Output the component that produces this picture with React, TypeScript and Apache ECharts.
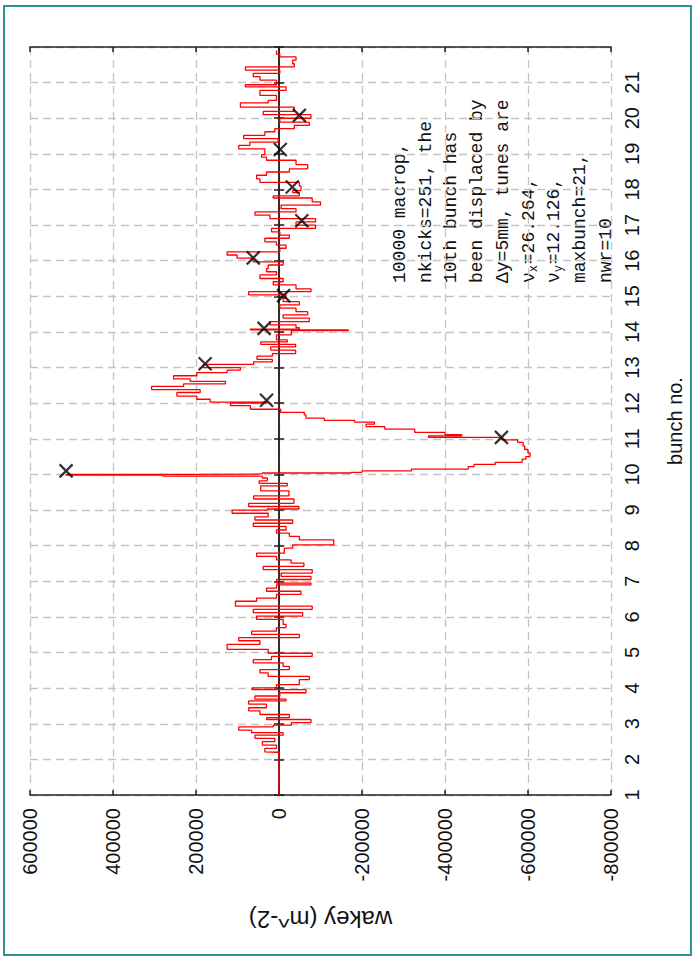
import React, { useEffect, useRef } from "react";
import * as echarts from "echarts";

// Trace: bunch position (vertical axis) and wake value (horizontal axis)
const bunchPos = [
  1.0, 2.2, 2.21, 2.31, 2.4, 2.5, 2.59, 2.68, 2.75, 2.82, 2.91, 2.96, 3.03, 3.12, 3.17, 3.26, 3.36, 3.45,
  3.55, 3.64, 3.69, 3.78, 3.87, 3.96, 4.01, 4.1, 4.24, 4.33, 4.43, 4.52, 4.61, 4.71, 4.8, 4.89, 4.98,
  5.09, 5.23, 5.33, 5.42, 5.51, 5.6, 5.7, 5.79, 5.93, 6.02, 6.12, 6.21, 6.3, 6.44, 6.53, 6.63, 6.72,
  6.81, 6.9, 6.95, 7.05, 7.14, 7.23, 7.33, 7.42, 7.51, 7.6, 7.7, 7.79, 7.93, 8.02, 8.16, 8.26, 8.35,
  8.44, 8.54, 8.63, 8.72, 8.81, 8.91, 9.0, 9.03, 9.1, 9.19, 9.31, 9.4, 9.54, 9.68, 9.75, 9.82, 9.9,
  9.95, 9.98, 10.0, 10.01, 10.02, 10.04, 10.06, 10.1, 10.15, 10.22, 10.28, 10.34, 10.43, 10.5, 10.6,
  10.7, 10.8, 10.9, 10.97, 11.04, 11.08, 11.12, 11.18, 11.27, 11.34, 11.41, 11.47, 11.52, 11.58,
  11.67, 11.74, 11.83, 11.93, 12.0, 12.03, 12.11, 12.2, 12.3, 12.38, 12.47, 12.54, 12.61, 12.68,
  12.77, 12.86, 12.93, 13.0, 13.09, 13.16, 13.23, 13.32, 13.39, 13.49, 13.58, 13.65, 13.72, 13.78,
  13.92, 14.04, 14.06, 14.08, 14.12, 14.2, 14.29, 14.39, 14.48, 14.57, 14.67, 14.76, 14.85, 14.94,
  15.04, 15.13, 15.21, 15.32, 15.41, 15.5, 15.6, 15.69, 15.78, 15.88, 15.97, 16.07, 16.16, 16.25,
  16.35, 16.44, 16.53, 16.63, 16.72, 16.81, 16.91, 17.0, 17.09, 17.18, 17.28, 17.37, 17.46, 17.56,
  17.65, 17.76, 17.82, 17.91, 17.97, 18.1, 18.2, 18.3, 18.4, 18.49, 18.58, 18.7, 18.82, 18.91, 18.98,
  19.14, 19.24, 19.33, 19.43, 19.52, 19.62, 19.71, 19.8, 19.89, 20.0, 20.1, 20.19, 20.31, 20.43,
  20.5, 20.64, 20.78, 20.88, 20.94, 21.07, 21.17, 21.26, 21.35, 21.44, 21.53, 21.63, 21.72, 21.8, 21.9
];
const wakeValues = [
  0, 0, 5000, 34000, 6000, 40000, 10000, 58000, -10000, 66000, 97000, 14000, -30000, -77000, 30000,
  -25000, 46000, 73000, 30000, 73000, -17000, 58000, -2000, -65000, 65000, 6000, -49000, -73000, 26000,
  46000, -25000, -10000, 62000, 18000, -80000,
  26000, 125000, 46000, 97000, -49000, 66000, 6000, -17000, -10000, 54000, -57000, 62000, -80000,
  105000, 54000, 6000, -53000, 30000, 6000, -77000, 6000, -77000, -5000, -80000, 38000, -60000,
  -29000, 6000, 54000, -13000, -33000, -132000, -49000, -25000, 6000, -17000, 62000, -33000, 58000,
  26000, 113000, 28000, -48000, 73000, -36000, 61000, -24000, 44000, -20000, 48000, 28000,
  40000, 279000, 513000, 200000, 52000, 40000, -174000, -200000, -319000, -456000, -470000, -521000,
  -586000, -595000, -605000, -600000, -592000, -588000, -575000, -537000, -360000, -440000, -400000,
  -327000, -255000, -210000, -230000, -182000, -109000, -65000, -61000, -4000, 69000, 117000, 30000,
  166000, 198000, 246000, 190000, 307000, 230000, 129000, 214000, 254000, 198000, 125000, 93000,
  182000, 61000, 16000, 53000, 16000, -40000, 20000, -40000, 44000, -20000, 6000, -30000, -167000,
  69000, -49000, -41000, 22000, -73000, -10000, -69000, -41000, -2000, -49000, -10000, -17000, 73000,
  -77000, -41000, 14000, -10000, 46000, 6000, 30000, 26000, -10000, 62000, 101000, 125000, -2000,
  -17000, 6000, 34000, -25000, -2000, 18000, -88000, -41000, -88000, 22000, 58000, -41000, -5000,
  -100000, -80000, 14000, -49000, -33000, -53000, -49000, 46000, 54000, 30000, -25000, -69000, -41000,
  30000, 42000, 34000, 97000, 70000, 2000, 85000, 34000, 10000, -37000, -73000, -2000, -77000, 38000,
  -37000, 93000, 26000, 6000, 46000, -17000, 81000, 6000, 46000, 62000, -2000, 81000, -37000, -33000,
  -41000, -2000, 6000
];

// Wake sampled at each bunch (black crosses)
const markerBunch = [10.1, 11.04, 12.08, 13.11, 14.1, 15.02, 16.08, 17.12, 18.07, 19.12, 20.08];
const markerWake = [513000, -536000, 30000, 178000, 36000, -11000, 62000, -55000, -32000, -3000, -49000];

const wakeTicks = [600000, 400000, 200000, 0, -200000, -400000, -600000, -800000];
const bunchTicks = [1, 2, 3, 4, 5, 6, 7, 8, 9, 10, 11, 12, 13, 14, 15, 16, 17, 18, 19, 20, 21];

const noteLines = [
  { main: "10000 macrop," },
  { main: "nkicks=251, the" },
  { main: "10th bunch has" },
  { main: "been displaced by" },
  { main: "\u0394y=5mm, tunes are" },
  { main: "\u03bd", sub: "x", rest: "=26.264," },
  { main: "\u03bd", sub: "y", rest: "=12.126," },
  { main: "maxbunch=21," },
  { main: "nwr=10" },
];

export default function App() {
  const ref = useRef<HTMLDivElement>(null);
  useEffect(() => {
    if (!ref.current) return;
    const chart = echarts.init(ref.current, undefined, { renderer: "svg" });
    const frame = { color: "#222", width: 1.5 };
    const split = { show: true, lineStyle: { type: [8, 5] as any, color: "#c4c4c4", width: 1.3 } };
    const labelFont = { fontFamily: "Liberation Sans", fontSize: 20, color: "#111" };
    const mono = "Liberation Mono";
    const charW = 10.8;
    const noteChildren: any[] = [];
    noteLines.forEach((ln, i) => {
      const y = i * 25.7;
      noteChildren.push({
        type: "text", x: 0, y,
        style: { text: ln.main, font: `18px "${mono}"`, fill: "#111", textVerticalAlign: "middle", textAlign: "left" },
      });
      if (ln.sub) {
        noteChildren.push({
          type: "text", x: charW * ln.main.length, y: y + 5,
          style: { text: ln.sub, font: `12px "${mono}"`, fill: "#111", textVerticalAlign: "middle", textAlign: "left" },
        });
        noteChildren.push({
          type: "text", x: charW * ln.main.length + 8, y,
          style: { text: ln.rest, font: `18px "${mono}"`, fill: "#111", textVerticalAlign: "middle", textAlign: "left" },
        });
      }
    });

    chart.setOption({
      animation: false,
      backgroundColor: "#fff",
      grid: { left: 30, top: 47, width: 581, height: 748, containLabel: false },
      xAxis: [
        {
          type: "value", min: -800000, max: 600000, interval: 200000, inverse: true, position: "bottom",
          axisLine: { show: true, lineStyle: frame },
          axisTick: { show: true, inside: true, length: 5, lineStyle: frame },
          axisLabel: {
            rotate: 90, margin: 13, ...labelFont,
            formatter: (v: number) => (wakeTicks.indexOf(v) >= 0 ? String(v) : ""),
          },
          splitLine: split,
          name: "wakey (m^-2)", nameLocation: "middle", nameGap: 112, nameRotate: 180,
          nameTextStyle: { fontFamily: "Liberation Sans", fontSize: 24, color: "#111" },
        },
        {
          type: "value", min: -800000, max: 600000, interval: 200000, inverse: true, position: "top",
          axisLine: { show: true, lineStyle: frame },
          axisTick: { show: true, inside: true, length: 5, lineStyle: frame },
          axisLabel: { show: false }, splitLine: { show: false },
        },
      ],
      yAxis: [
        {
          type: "value", min: 1, max: 22, interval: 1, position: "right",
          axisLine: { show: true, lineStyle: frame },
          axisTick: { show: true, inside: true, length: 5, lineStyle: frame },
          axisLabel: {
            rotate: 90, margin: 11, ...labelFont,
            formatter: (v: number) => (bunchTicks.indexOf(v) >= 0 ? String(v) : ""),
          },
          splitLine: split,
          name: "bunch no.", nameLocation: "middle", nameGap: 54, nameRotate: 90,
          nameTextStyle: { fontFamily: "Liberation Sans", fontSize: 20, color: "#111" },
        },
        {
          type: "value", min: 1, max: 22, interval: 1, position: "left",
          axisLine: { show: true, lineStyle: frame },
          axisTick: { show: true, inside: true, length: 5, lineStyle: frame },
          axisLabel: { show: false }, splitLine: { show: false },
        },
      ],
      series: [
        {
          type: "line", xAxisIndex: 0, yAxisIndex: 0,
          data: bunchPos.map((b, i) => [wakeValues[i], b]),
          showSymbol: false, symbol: "none", step: "end",
          lineStyle: { color: "#ff0000", width: 1.3 },
          z: 3,
        },
        {
          type: "scatter", xAxisIndex: 0, yAxisIndex: 0,
          data: markerBunch.map((b, i) => [markerWake[i], b]),
          symbol: "path://M0 0L10 10M10 0L0 10", symbolSize: 13,
          itemStyle: { color: "none", borderColor: "#000", borderWidth: 2.2 },
          z: 4,
        },
      ],
      graphic: [
        {
          type: "rect", shape: { x: 4, y: 6, width: 687, height: 949 },
          style: { fill: "none", stroke: "#2b9393", lineWidth: 2 }, z: 10,
        },
        { type: "group", x: 400, y: 283, rotation: Math.PI / 2, children: noteChildren, z: 5 },
      ],
    });
    return () => chart.dispose();
  }, []);
  return (
    <div
      ref={ref}
      style={{ position: "absolute", left: 0, top: 0, width: 695, height: 963, background: "#fff" }}
    />
  );
}
